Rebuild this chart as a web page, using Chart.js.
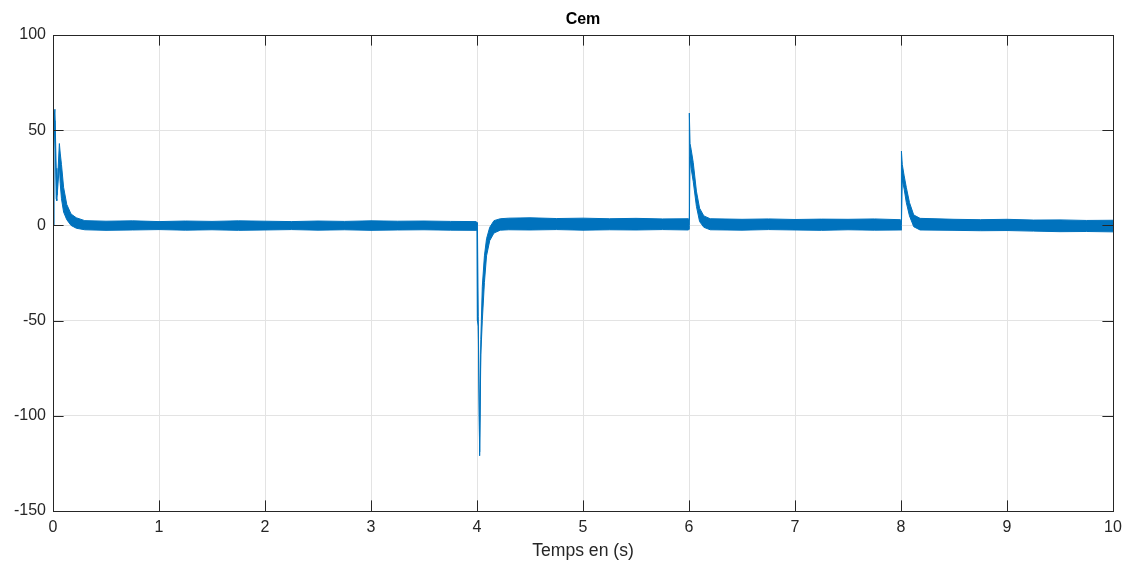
<!DOCTYPE html>
<html><head><meta charset="utf-8">
<script src="https://cdn.jsdelivr.net/npm/chart.js@4.4.0/dist/chart.umd.min.js"></script>
<style>html,body{margin:0;padding:0;background:#fff;}#wrap{width:1139px;height:565px;}</style>
</head><body><div id="wrap"><canvas id="c" width="1139" height="565" style="width:1139px;height:565px"></canvas></div>
<script>
// ---- data ----
const chartTitle = 'Cem';
const xAxisLabel = 'Temps en (s)';
const xTicks = [0, 1, 2, 3, 4, 5, 6, 7, 8, 9, 10];
const yTicks = [-150, -100, -50, 0, 50, 100];

// time (s) of envelope samples
const time = [
  0, 0.008, 0.018, 0.03, 0.036, 0.06, 0.068, 0.08, 0.1, 0.13, 0.17, 0.22,
  0.3, 0.5, 0.75, 1.0, 1.25, 1.5, 1.75, 2.0, 2.25, 2.5, 2.75, 3.0, 3.25, 3.5, 3.75, 3.99,
  4.0, 4.004, 4.012, 4.025, 4.036, 4.05, 4.07, 4.09, 4.12, 4.16,
  4.22, 4.3, 4.5, 4.75, 5.0, 5.25, 5.5, 5.75, 5.995,
  6.0, 6.003, 6.01, 6.02, 6.04, 6.07, 6.1, 6.14,
  6.2, 6.5, 6.75, 7.0, 7.25, 7.5, 7.75, 7.995,
  8.0, 8.004, 8.012, 8.03, 8.05, 8.08, 8.12,
  8.18, 8.5, 8.75, 9.0, 9.25, 9.5, 9.75, 10
];
// upper edge of the noisy Cem trace
const cemUpper = [
  0, 55, 61, 30, 16, 43, 38, 32, 20, 11, 6, 4,
  2.5, 2.2, 2.4, 2.0, 2.3, 2.1, 2.4, 2.2, 2.0, 2.3, 2.1, 2.4, 2.2, 2.3, 2.1, 2.0,
  1.5, 0, -48, -119, -60, -32, -16, -7, -1, 2.5,
  3.5, 3.8, 4.0, 3.6, 3.8, 3.5, 3.7, 3.4, 3.5,
  3, 59, 43, 40, 33, 18, 9, 5,
  3.5, 3.2, 3.4, 3.1, 3.3, 3.2, 3.4, 3.0,
  2.5, 39, 32, 26, 20, 12, 5.5,
  3.7, 3.2, 3.0, 3.2, 2.8, 2.9, 2.6, 2.7
];
// lower edge of the noisy Cem trace
const cemLower = [
  0, 40, 55, 14, 13, 32, 22, 14, 7, 3, 0, -1.5,
  -2.3, -2.6, -2.4, -2.2, -2.5, -2.3, -2.6, -2.4, -2.2, -2.5, -2.3, -2.6, -2.4, -2.3, -2.5, -2.6,
  -2.5, -50, -53, -121, -68, -50, -30, -16, -8, -4,
  -2.5, -2.3, -2.4, -2.2, -2.5, -2.3, -2.4, -2.2, -2.4,
  -2, 0, 36, 30, 23, 10, 2, -1,
  -2.3, -2.5, -2.2, -2.4, -2.6, -2.3, -2.5, -2.4,
  -2.5, 0, 24, 19, 12, 5, -0.7,
  -2.4, -2.6, -2.8, -2.7, -3.0, -3.3, -3.2, -3.4
];

// ---- chart ----
const LINE = '#0072BD';
const AXIS = '#262626';
const FONT = "'Liberation Sans', Arial, Helvetica, sans-serif";

const boxPlugin = {
  id: 'matlabBox',
  afterDatasetsDraw(chart) {
    const {ctx, chartArea: a, scales: {x, y}} = chart;
    ctx.save();
    ctx.strokeStyle = AXIS;
    ctx.lineWidth = 1;
    const tl = 10.6;
    ctx.beginPath();
    xTicks.forEach(v => {
      const px = Math.round(x.getPixelForValue(v)) + 0.5;
      ctx.moveTo(px, a.bottom); ctx.lineTo(px, a.bottom - tl);
      ctx.moveTo(px, a.top); ctx.lineTo(px, a.top + tl);
    });
    yTicks.forEach(v => {
      const py = Math.round(y.getPixelForValue(v)) + 0.5;
      ctx.moveTo(a.left, py); ctx.lineTo(a.left + tl, py);
      ctx.moveTo(a.right, py); ctx.lineTo(a.right - tl, py);
    });
    ctx.stroke();
    ctx.strokeRect(Math.round(a.left) + 0.5, Math.round(a.top) + 0.5,
                   Math.round(a.right - a.left), Math.round(a.bottom - a.top));
    ctx.restore();
  }
};

new Chart(document.getElementById('c'), {
  type: 'line',
  data: {
    datasets: [
      {
        label: 'Cem',
        data: time.map((t, i) => ({x: t, y: cemUpper[i]})),
        borderColor: LINE, backgroundColor: LINE, borderWidth: 1,
        pointRadius: 0, tension: 0, fill: '+1'
      },
      {
        label: 'Cem (low)',
        data: time.map((t, i) => ({x: t, y: cemLower[i]})),
        borderColor: LINE, backgroundColor: LINE, borderWidth: 1,
        pointRadius: 0, tension: 0, fill: false
      }
    ]
  },
  options: {
    responsive: false,
    animation: false,
    layout: {padding: {left: 0, right: 26, top: 0, bottom: 0}},
    plugins: {
      legend: {display: false},
      tooltip: {enabled: false},
      title: {
        display: true, text: chartTitle, color: '#000', fullSize: false,
        font: {family: FONT, size: 16, weight: 'bold'},
        padding: {top: 10, bottom: 5.8}
      }
    },
    scales: {
      x: {
        type: 'linear', min: 0, max: 10,
        afterBuildTicks: s => { s.ticks = xTicks.map(v => ({value: v})); },
        afterFit: s => { s.height = 54; },
        grid: {color: '#e3e3e3', drawTicks: false, lineWidth: 1},
        border: {display: false},
        ticks: {color: AXIS, padding: 7, maxRotation: 0, font: {family: FONT, size: 16}},
        title: {display: true, text: xAxisLabel, color: AXIS,
                font: {family: FONT, size: 17.6}, padding: {top: 0, bottom: 3}}
      },
      y: {
        type: 'linear', min: -150, max: 100,
        afterBuildTicks: s => { s.ticks = yTicks.map(v => ({value: v})); },
        afterFit: s => { s.width = 53; },
        grid: {color: '#e3e3e3', drawTicks: false, lineWidth: 1},
        border: {display: false},
        ticks: {color: AXIS, padding: 7, font: {family: FONT, size: 16}}
      }
    }
  },
  plugins: [boxPlugin]
});
</script>
</body></html>
